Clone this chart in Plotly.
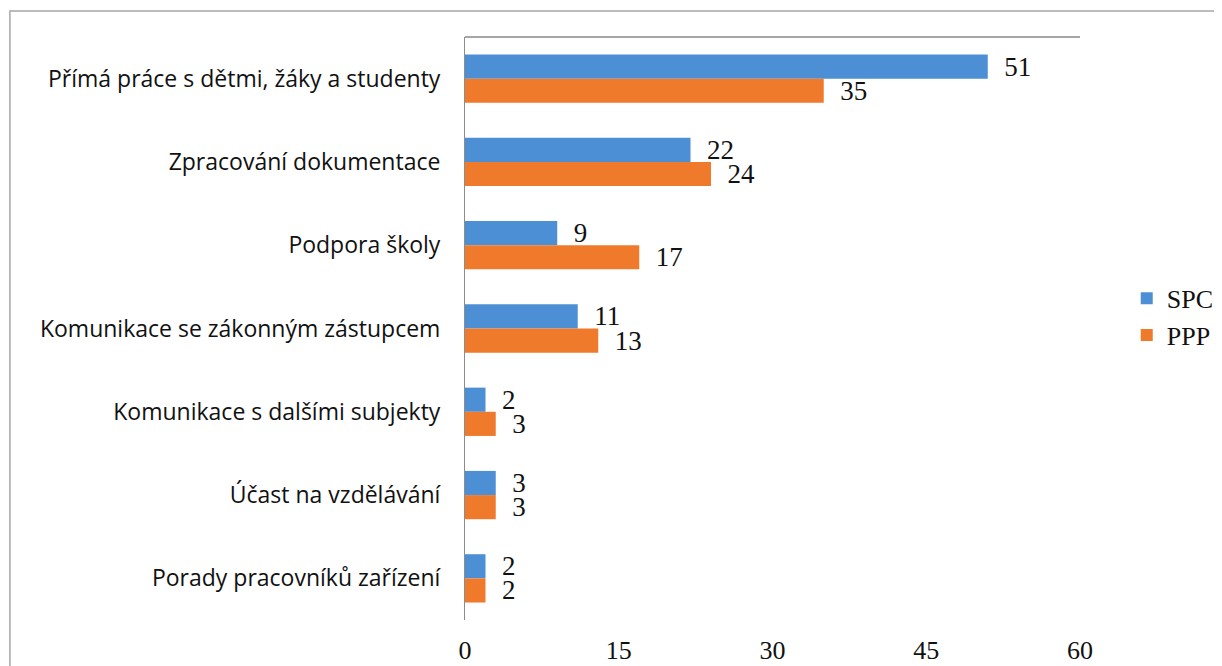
import plotly.graph_objects as go

categories = [
    "Přímá práce s dětmi, žáky a studenty",
    "Zpracování dokumentace",
    "Podpora školy",
    "Komunikace se zákonným zástupcem",
    "Komunikace s dalšími subjekty",
    "Účast na vzdělávání",
    "Porady pracovníků zařízení",
]
spc = [51, 22, 9, 11, 2, 3, 2]
ppp = [35, 24, 17, 13, 3, 3, 2]
x_ticks = [0, 15, 30, 45, 60]

SERIF = "Liberation Serif, DejaVu Serif, serif"
SANS = "Open Sans, Lato, sans-serif"

fig = go.Figure()
fig.add_trace(go.Bar(
    y=categories, x=spc, name="SPC", orientation="h",
    marker=dict(color="#4d8fd5", line=dict(width=0)),
    text=spc, texttemplate="  %{x}", textposition="outside", cliponaxis=False,
    constraintext="none",
    textfont=dict(family=SERIF, size=27, color="#111"),
))
fig.add_trace(go.Bar(
    y=categories, x=ppp, name="PPP", orientation="h",
    marker=dict(color="#ef7a2b", line=dict(width=0)),
    text=ppp, texttemplate="  %{x}", textposition="outside", cliponaxis=False,
    constraintext="none",
    textfont=dict(family=SERIF, size=27, color="#111"),
))

fig.update_layout(
    width=1214, height=658,
    margin=dict(l=457, r=142, t=29, b=46, autoexpand=False),
    paper_bgcolor="white", plot_bgcolor="white",
    barmode="group", bargap=0.42, bargroupgap=0,
    showlegend=True,
    legend=dict(
        x=1.076, y=0.52, xanchor="left", yanchor="middle",
        font=dict(family=SERIF, size=26, color="#111"),
        traceorder="normal", itemwidth=30, tracegroupgap=4,
    ),
    xaxis=dict(
        range=[0, 60], tickvals=x_ticks, showgrid=False, zeroline=False,
        ticks="", ticklabelstandoff=12, showline=False,
        tickfont=dict(family=SERIF, size=26, color="#111"),
    ),
    yaxis=dict(
        autorange="reversed", showgrid=False, ticks="",
        showline=True, linecolor="#8c8c8c", linewidth=1,
        ticklabelstandoff=19,
        tickfont=dict(family=SANS, size=23, color="#111"),
    ),
    shapes=[
        dict(type="line", xref="paper", yref="paper", x0=0, x1=1, y0=1, y1=1,
             line=dict(color="#a6a6a6", width=2)),
        dict(type="rect", xref="paper", yref="paper", x0=-0.74, x1=1.2244,
             y0=-0.2, y1=1.0446, line=dict(color="#a6a6a6", width=1.5),
             layer="below"),
    ],
)

fig.write_html("out.html")
